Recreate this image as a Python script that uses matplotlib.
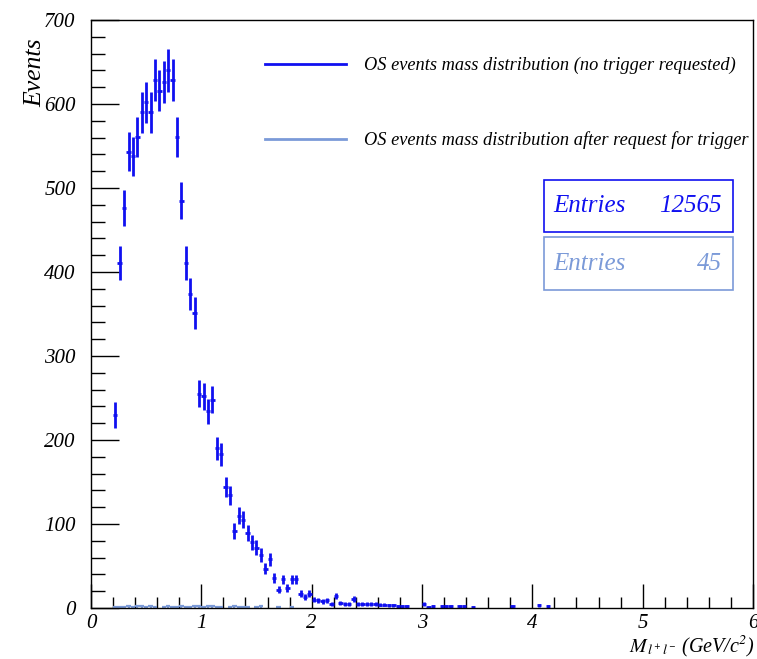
import numpy as np
import matplotlib
matplotlib.use("Agg")
import matplotlib.pyplot as plt
from matplotlib.ticker import MultipleLocator
from matplotlib.lines import Line2D

plt.rcParams['font.family'] = ['Liberation Serif', 'DejaVu Serif']
plt.rcParams['font.style'] = 'italic'
plt.rcParams['mathtext.fontset'] = 'stix'

# Histogram binning: 0..6 GeV/c^2, bin width 0.04; data start at bin centred 0.22
bin_width = 0.04
first_center = 0.22

# Opposite-sign events, no trigger requested (counts per bin)
counts_all = [230, 411, 476, 543, 538, 561, 590, 602, 590, 629,
              616, 626, 640, 629, 561, 485, 411, 374, 351, 255,
              252, 234, 248, 190, 183, 144, 134, 92, 110, 105,
              89, 78, 72, 63, 47, 58, 36, 22, 34, 24,
              34, 34, 17, 13, 17, 10, 9, 8, 9, 5,
              14, 6, 5, 5, 11, 5, 5, 5, 5, 5,
              4, 4, 3, 3, 2, 2, 2, 0, 0, 0,
              5, 1, 2, 0, 2, 2, 2, 0, 2, 2,
              0, 1, 0, 0, 0, 0, 0, 0, 0, 0,
              2, 0, 0, 0, 0, 0, 3, 0, 2]

# Opposite-sign events after trigger request
counts_trig = [1, 1, 1, 2, 1, 2, 2, 1, 2, 1,
               0, 1, 2, 1, 1, 2, 1, 1, 2, 2,
               1, 2, 2, 1, 1, 0, 1, 2, 1, 1,
               1, 0, 1, 2, 0, 0, 0, 1, 0, 0, 1]

entries_all = 12565
entries_trig = 45

label_all = "OS events mass distribution (no trigger requested)"
label_trig = "OS events mass distribution after request for trigger"

c_dark = '#1010f0'
c_light = '#7b9ad8'

fig = plt.figure(figsize=(7.57, 6.59), dpi=100)
ax = fig.add_axes([0.1202, 0.0774, 0.8745, 0.8923])

def draw(counts, color, lw):
    counts = np.asarray(counts, dtype=float)
    x = first_center + bin_width * np.arange(len(counts))
    m = counts > 0
    ax.errorbar(x[m], counts[m], yerr=np.sqrt(counts[m]), xerr=bin_width / 2,
                fmt='none', ecolor=color, elinewidth=lw, capsize=0)

draw(counts_all, c_dark, 2.0)
draw(counts_trig, c_light, 1.6)

ax.set_xlim(0, 6)
ax.set_ylim(0, 700)
ax.xaxis.set_major_locator(MultipleLocator(1))
ax.xaxis.set_minor_locator(MultipleLocator(0.2))
ax.yaxis.set_major_locator(MultipleLocator(100))
ax.yaxis.set_minor_locator(MultipleLocator(20))
ax.tick_params(which='both', direction='in', top=False, right=False, labelsize=15, width=1.0)
ax.tick_params(which='major', axis='y', length=20, pad=11)
ax.tick_params(which='minor', axis='y', length=10)
ax.tick_params(which='major', axis='x', length=17, pad=4)
ax.tick_params(which='minor', axis='x', length=8)
for lab in ax.get_xticklabels() + ax.get_yticklabels():
    lab.set_fontstyle('italic')
for s in ax.spines.values():
    s.set_linewidth(1.0)

ax.set_ylabel('Events', fontsize=18.5, style='italic')
ax.yaxis.set_label_coords(-0.068, 0.91)
fig.text(0.997, 0.0, r'$M_{\,l^{+}\,l^{-}}$ (GeV/c$^{2}$)', ha='right', va='bottom',
         fontsize=14.5, style='italic')

# Legend (no frame)
handles = [Line2D([0], [0], color=c_dark, lw=2),
           Line2D([0], [0], color=c_light, lw=2)]
leg = ax.legend(handles, [label_all, label_trig], loc='upper left',
                bbox_to_anchor=(0.238, 0.965), frameon=False,
                handlelength=4.4, handletextpad=1.0, labelspacing=3.1,
                prop={'family': 'Liberation Serif', 'style': 'italic', 'size': 13.2})

# Statistics boxes
def statbox(y0, y1, color, n):
    x0, x1 = 544 / 757, 733 / 757
    fy0, fy1 = 1 - y1 / 659, 1 - y0 / 659
    fig.patches.append(plt.Rectangle((x0, fy0), x1 - x0, fy1 - fy0, transform=fig.transFigure,
                                     fill=False, edgecolor=color, lw=1.2))
    ym = (fy0 + fy1) / 2
    fig.text(x0 + 0.012, ym, 'Entries', color=color, fontsize=18, style='italic',
             ha='left', va='center')
    fig.text(x1 - 0.015, ym, str(n), color=color, fontsize=18, style='italic',
             ha='right', va='center')

statbox(180, 232, c_dark, entries_all)
statbox(237, 290, c_light, entries_trig)

fig.savefig('out.png', dpi=100)
